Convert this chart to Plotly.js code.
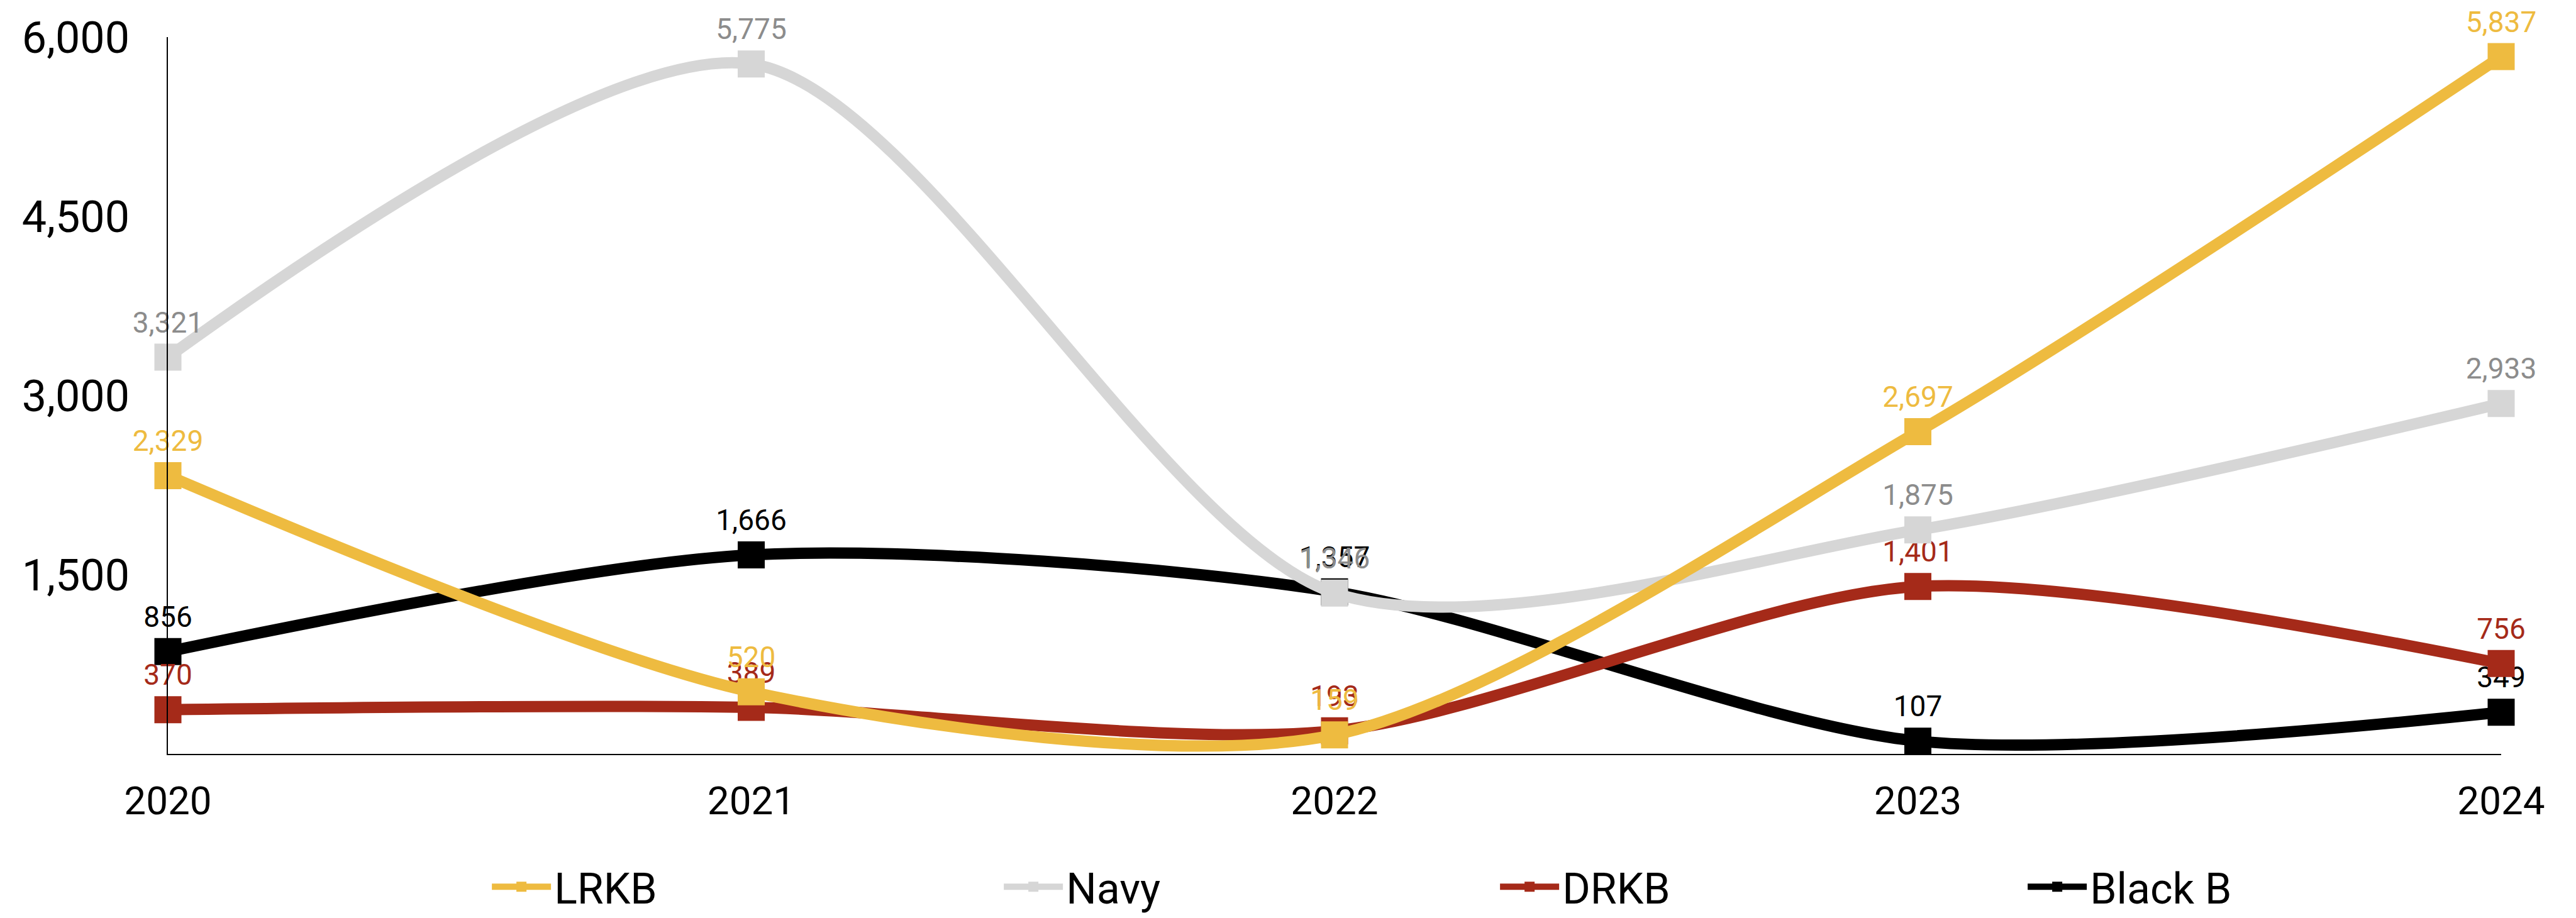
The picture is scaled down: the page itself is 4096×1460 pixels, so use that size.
<!DOCTYPE html>
<html>
<head>
<meta charset="utf-8">
<script src="https://cdn.plot.ly/plotly-3.0.1.min.js"></script>
<style>html,body{margin:0;padding:0;background:#fff;}#chart{width:4096px;height:1460px;}</style>
</head>
<body>
<div id="chart"></div>
<script>
var years = [2020, 2021, 2022, 2023, 2024];
var seriesNames = ["Black B", "DRKB", "Navy", "LRKB"];
var blackB = [856, 1666, 1357, 107, 349];
var drkb = [370, 389, 193, 1401, 756];
var navy = [3321, 5775, 1346, 1875, 2933];
var lrkb = [2329, 520, 159, 2697, 5837];
var yTickVals = [1500, 3000, 4500, 6000];
var yTickText = ["1,500", "3,000", "4,500", "6,000"];

var lineColors = ["#000000", "#A52A19", "#D6D6D6", "#EEBB40"];
var labelColors = ["#000000", "#A52A19", "#8C8C8C", "#EEBB40"];
var values = [blackB, drkb, navy, lrkb];
var legendWidths = [300, 730, 680, 705];

var FONT = "Roboto, 'Open Sans', sans-serif";

var traces = values.map(function (v, i) {
  return {
    type: "scatter",
    mode: "lines+markers+text",
    name: seriesNames[i],
    x: years,
    y: v,
    line: { color: lineColors[i], width: 18, shape: "spline", smoothing: 0.8 },
    marker: { symbol: "square", size: 43, color: lineColors[i] },
    texttemplate: "%{y:,.0f}",
    textposition: "top center",
    textfont: { family: FONT, size: 46, color: labelColors[i] },
    cliponaxis: false,
    hoverinfo: "skip",
    legendwidth: legendWidths[i]
  };
});

var layout = {
  width: 4096,
  height: 1460,
  paper_bgcolor: "#ffffff",
  plot_bgcolor: "#ffffff",
  margin: { l: 266.8, r: 118.8, t: 59.3, b: 261.4, autoexpand: false },
  font: { family: FONT, color: "#000000" },
  showlegend: true,
  legend: {
    orientation: "h",
    traceorder: "reversed",
    x: 0.1375,
    xanchor: "left",
    y: -0.1856,
    yanchor: "middle",
    itemwidth: 94,
    font: { family: FONT, size: 68, color: "#000000" },
    bgcolor: "rgba(0,0,0,0)"
  },
  xaxis: {
    type: "linear",
    range: [2020, 2024],
    tickvals: years,
    ticktext: years.map(String),
    showgrid: false,
    zeroline: false,
    showline: true,
    linecolor: "#000000",
    linewidth: 2,
    ticks: "",
    ticklabelstandoff: 20,
    tickfont: { family: FONT, size: 62, color: "#000000" }
  },
  yaxis: {
    range: [0, 6000],
    tickvals: yTickVals,
    ticktext: yTickText,
    showgrid: false,
    zeroline: false,
    showline: true,
    linecolor: "#000000",
    linewidth: 2,
    ticks: "",
    ticklabelstandoff: 45,
    tickfont: { family: FONT, size: 70, color: "#000000" }
  }
};

Plotly.newPlot("chart", traces, layout, { displayModeBar: false, staticPlot: true });
</script>
</body>
</html>
